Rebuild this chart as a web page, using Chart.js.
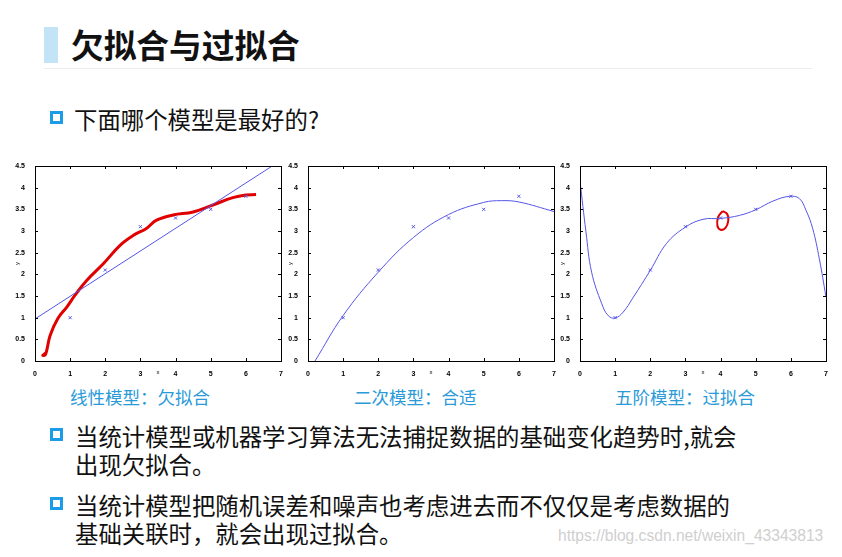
<!DOCTYPE html>
<html>
<head>
<meta charset="utf-8">
<script src="https://cdn.jsdelivr.net/npm/chart.js@4"></script>
<style>
  html, body { margin: 0; padding: 0; background: #fff; }
  body { width: 842px; height: 557px; position: relative; overflow: hidden;
         font-family: "Noto Sans CJK SC", "Noto Sans", sans-serif; color: #111; }
  .abs { position: absolute; white-space: nowrap; }
  .bar { left: 44px; top: 27px; width: 14px; height: 36px; background: #c3e4f7; }
  .title { left: 71px; top: 22px; font-size: 32.7px; font-weight: 700; line-height: 44px; }
  .rule { left: 44px; top: 68px; width: 768px; height: 1px; background: #ececec; }
  .bullet { width: 7px; height: 7px; border: 3px solid #1c9ce8; background: #fff; }
  .txt { font-size: 23.4px; line-height: 28px; }
  .cap { font-size: 17.5px; color: #2a9ad8; line-height: 24px; }
  .wm { font-family: "Liberation Sans", sans-serif; font-size: 15.6px; color: #cfcfcf; }
  canvas { position: absolute; }
</style>
</head>
<body>
<div class="abs bar"></div>
<div class="abs title">欠拟合与过拟合</div>
<div class="abs rule"></div>

<div class="abs bullet" style="left:50px; top:111px;"></div>
<div class="abs txt" style="left:74px; top:105px;">下面哪个模型是最好的?</div>

<canvas id="c1" width="276" height="220" style="left:14px; top:156px; width:276px; height:220px;"></canvas>
<canvas id="c2" width="276" height="220" style="left:287px; top:156px; width:276px; height:220px;"></canvas>
<canvas id="c3" width="276" height="220" style="left:559px; top:156px; width:276px; height:220px;"></canvas>

<div class="abs cap" style="left:70px; top:385px;">线性模型：欠拟合</div>
<div class="abs cap" style="left:354px; top:385px;">二次模型：合适</div>
<div class="abs cap" style="left:615px; top:385px;">五阶模型：过拟合</div>

<div class="abs bullet" style="left:50px; top:428px;"></div>
<div class="abs txt" style="left:75px; top:422px;">当统计模型或机器学习算法无法捕捉数据的基础变化趋势时,就会</div>
<div class="abs txt" style="left:75px; top:450px;">出现欠拟合。</div>

<div class="abs bullet" style="left:50px; top:497px;"></div>
<div class="abs txt" style="left:75px; top:491px;">当统计模型把随机误差和噪声也考虑进去而不仅仅是考虑数据的</div>
<div class="abs txt" style="left:75px; top:519px;">基础关联时，就会出现过拟合。</div>

<div class="abs wm" style="left:558px; top:527px;">https://blog.csdn.net/weixin_43343813</div>

<script>
// Training samples (same in all three plots)
const sampleX = [1, 2, 3, 4, 5, 6];
const sampleY = [1, 2.1, 3.1, 3.3, 3.5, 3.8];

// Linear fit (straight line, clipped at the top edge)
const linearX = [0, 6.75];
const linearY = [0.97, 4.5];

// Hand-drawn red curve on the linear plot
const redX = [0.3, 0.22, 0.3, 0.43, 0.65, 0.91, 1.14, 1.47, 1.95, 2.42, 2.8, 3.17, 3.46, 3.93, 4.5, 5.06, 5.63, 6.0, 6.29];
const redY = [0.18, 0.13, 0.15, 0.59, 0.98, 1.25, 1.52, 1.86, 2.25, 2.67, 2.9, 3.06, 3.25, 3.37, 3.44, 3.6, 3.77, 3.83, 3.84];

// Quadratic fit
const quadX = [0.2, 1, 2, 3, 4, 5, 5.5, 6, 7];
const quadY = [0, 1.05, 2.05, 2.85, 3.38, 3.66, 3.7, 3.67, 3.45];

// Fifth-order fit
const quintX = [0, 0.17, 0.33, 0.62, 0.8, 1, 1.23, 1.5, 2, 2.46, 3, 3.5, 4, 4.54, 5, 5.49, 5.96, 6.24, 6.43, 6.62, 6.81, 7];
const quintY = [4.15, 2.98, 2.05, 1.32, 1.05, 0.99, 1.13, 1.45, 2.09, 2.71, 3.09, 3.27, 3.29, 3.36, 3.49, 3.69, 3.8, 3.75, 3.48, 3.06, 2.36, 1.48];

// Red hand-drawn circle around the point at x = 4
const circX = [4.06, 4.19, 4.22, 4.14, 4.0, 3.91, 3.93, 4.06];
const circY = [3.46, 3.39, 3.25, 3.07, 3.03, 3.12, 3.32, 3.46];

const xTicks = [0, 1, 2, 3, 4, 5, 6, 7];
const yTicks = [0, 0.5, 1, 1.5, 2, 2.5, 3, 3.5, 4, 4.5];

const BLUE = "#5555e6";
const RED = "#e00000";

function pts(xs, ys) {
  return xs.map((x, i) => ({ x: x, y: ys[i] }));
}

// Matlab-style frame with inward ticks
const framePlugin = {
  id: "frame",
  afterDraw(chart) {
    const { ctx, chartArea: a, scales } = chart;
    ctx.save();
    ctx.strokeStyle = "#000";
    ctx.lineWidth = 1;
    ctx.strokeRect(a.left + 0.5, a.top + 0.5, a.right - a.left, a.bottom - a.top);
    ctx.beginPath();
    for (const v of xTicks) {
      const px = Math.round(scales.x.getPixelForValue(v)) + 0.5;
      ctx.moveTo(px, a.bottom); ctx.lineTo(px, a.bottom - 3);
      ctx.moveTo(px, a.top); ctx.lineTo(px, a.top + 3);
    }
    for (const v of yTicks) {
      const py = Math.round(scales.y.getPixelForValue(v)) + 0.5;
      ctx.moveTo(a.left, py); ctx.lineTo(a.left + 3, py);
      ctx.moveTo(a.right, py); ctx.lineTo(a.right - 3, py);
    }
    ctx.stroke();
    ctx.restore();
  },
};

function makeChart(id, datasets) {
  const tickFont = { family: "Liberation Sans", size: 7, weight: "bold" };
  return new Chart(document.getElementById(id), {
    type: "scatter",
    data: { datasets: datasets },
    plugins: [framePlugin],
    options: {
      responsive: false,
      animation: false,
      layout: { padding: { top: 10, right: 9, left: 0, bottom: 0 } },
      plugins: { legend: { display: false }, tooltip: { enabled: false } },
      scales: {
        x: {
          type: "linear", min: 0, max: 7,
          grid: { display: false }, border: { display: false },
          afterBuildTicks: (s) => { s.ticks = xTicks.map((v) => ({ value: v })); },
          afterFit: (s) => { s.height = 15; },
          ticks: { font: tickFont, color: "#000", padding: 1, maxRotation: 0, callback: (v) => String(v) },
          title: { display: true, text: "x", font: { family: "Liberation Sans", size: 6 }, color: "#000", padding: 0 },
        },
        y: {
          type: "linear", min: 0, max: 4.5,
          grid: { display: false }, border: { display: false },
          afterBuildTicks: (s) => { s.ticks = yTicks.map((v) => ({ value: v })); },
          afterFit: (s) => { s.width = 21; },
          ticks: { font: tickFont, color: "#000", padding: 2, callback: (v) => String(v) },
          title: { display: true, text: "y", font: { family: "Liberation Sans", size: 6 }, color: "#000", padding: 0 },
        },
      },
    },
  });
}

function samples() {
  return {
    data: pts(sampleX, sampleY), pointStyle: "crossRot", pointRadius: 2.2,
    borderColor: BLUE, borderWidth: 1, showLine: false, order: 0,
  };
}

function curve(xs, ys, color, width, tension) {
  return {
    data: pts(xs, ys), showLine: true, pointRadius: 0, borderColor: color,
    borderWidth: width, tension: tension, fill: false, order: 1,
  };
}

makeChart("c1", [
  samples(),
  curve(linearX, linearY, BLUE, 1, 0),
  curve(redX, redY, RED, 3, 0.4),
]);
makeChart("c2", [
  samples(),
  curve(quadX, quadY, BLUE, 1, 0.4),
]);
makeChart("c3", [
  samples(),
  curve(quintX, quintY, BLUE, 1, 0.4),
  curve(circX, circY, RED, 2, 0.5),
]);
</script>
</body>
</html>
